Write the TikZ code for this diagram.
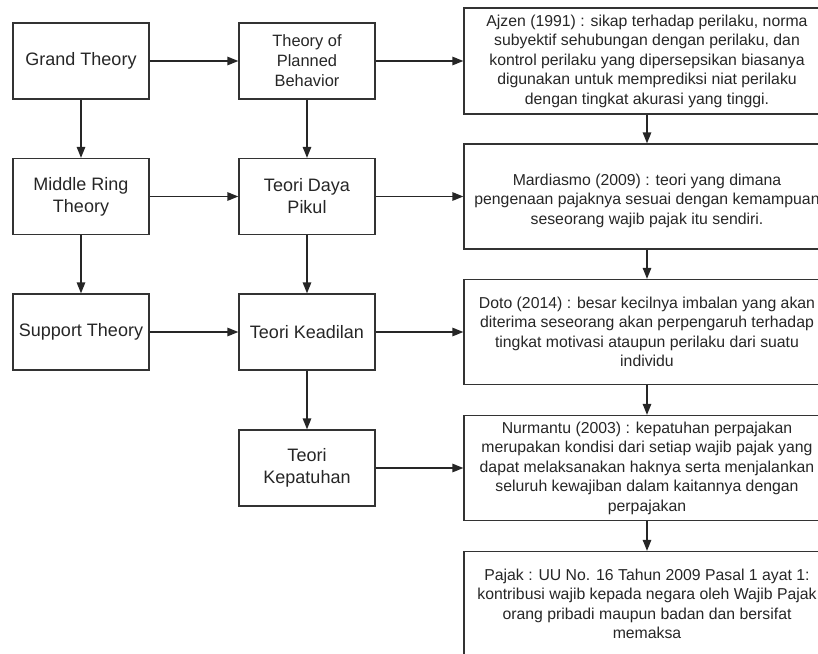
\documentclass[tikz,border=0pt]{standalone}
\usepackage{fontspec}
\setmainfont{Liberation Sans}
\usetikzlibrary{arrows.meta}

\begin{document}
\begin{tikzpicture}[x=1pt,y=-1pt,
    box/.style={draw=black!80,line width=1.3pt,inner sep=0pt,align=center,text=black!85},
    small/.style={box,minimum width=136pt,minimum height=76pt,font=\fontsize{18}{22}\selectfont},
    big/.style={box,minimum width=366pt,minimum height=105pt,font=\fontsize{15.8}{19.5}\selectfont},
    arr/.style={draw=black!85,line width=1.3pt,-{Triangle[length=11pt,width=8.5pt]}}]
    \useasboundingbox (0,0) rectangle (818,653);
    \clip (0,0) rectangle (818,653);

    % left column
    \node[small] (grand) at (81,61) {Grand Theory};
    \node[small] (middle) at (81,196.5) {Middle Ring\\Theory};
    \node[small] (support) at (81,332) {Support Theory};

    % middle column
    \node[small,font=\fontsize{16.4}{20}\selectfont] (tpb) at (307,61) {Theory of\\Planned\\Behavior};
    \node[small] (daya) at (307,196.5) {Teori Daya\\Pikul};
    \node[small] (adil) at (307,332) {Teori Keadilan};
    \node[small] (patuh) at (307,468) {Teori\\Kepatuhan};

    % right column
    \node[big,minimum height=106pt] (ajzen) at (647,61) {Ajzen (1991) : sikap terhadap perilaku, norma\\subyektif sehubungan dengan perilaku, dan\\kontrol perilaku yang dipersepsikan biasanya\\digunakan untuk memprediksi niat perilaku\\dengan tingkat akurasi yang tinggi.};
    \node[big] (mardi) at (647,196.5) {\mbox{}\\Mardiasmo (2009) : teori yang dimana\\pengenaan pajaknya sesuai dengan kemampuan\\seseorang wajib pajak itu sendiri.};
    \node[big] (doto) at (647,332) {Doto (2014) : besar kecilnya imbalan yang akan\\diterima seseorang akan perpengaruh terhadap\\tingkat motivasi ataupun perilaku dari suatu\\individu};
    \node[big] (nurman) at (647,468) {Nurmantu (2003) : kepatuhan perpajakan\\merupakan kondisi dari setiap wajib pajak yang\\dapat melaksanakan haknya serta menjalankan\\seluruh kewajiban dalam kaitannya dengan\\perpajakan};
    \node[big] (pajak) at (647,604) {Pajak : UU No. 16 Tahun 2009 Pasal 1 ayat 1:\\kontribusi wajib kepada negara oleh Wajib Pajak\\orang pribadi maupun badan dan bersifat\\memaksa};

    % across
    \draw[arr] (grand) -- (tpb);
    \draw[arr] (tpb) -- (ajzen);
    \draw[arr] (middle) -- (daya);
    \draw[arr] (daya) -- (mardi);
    \draw[arr] (support) -- (adil);
    \draw[arr] (adil) -- (doto);
    \draw[arr] (patuh) -- (nurman);

    % down
    \draw[arr] (grand) -- (middle);
    \draw[arr] (middle) -- (support);
    \draw[arr] (tpb) -- (daya);
    \draw[arr] (daya) -- (adil);
    \draw[arr] (adil) -- (patuh);
    \draw[arr] (ajzen) -- (mardi);
    \draw[arr] (mardi) -- (doto);
    \draw[arr] (doto) -- (nurman);
    \draw[arr] (nurman) -- (pajak);
\end{tikzpicture}
\end{document}
